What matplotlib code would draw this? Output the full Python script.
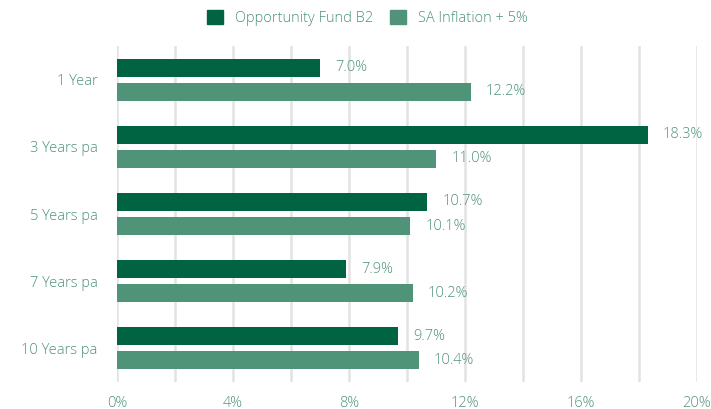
import matplotlib
matplotlib.use("Agg")
import matplotlib.pyplot as plt
import numpy as np
from matplotlib.patches import Patch

categories = ["1 Year", "3 Years pa", "5 Years pa", "7 Years pa", "10 Years pa"]
fund = [7.0, 18.3, 10.7, 7.9, 9.7]
inflation = [12.2, 11.0, 10.1, 10.2, 10.4]
series_names = ["Opportunity Fund B2", "SA Inflation + 5%"]
xticks = [0, 4, 8, 12, 16, 20]

DARK, LIGHT, TXT, GRID = "#006341", "#4f9478", "#4f9478", "#e3e3e3"
plt.rcParams.update({"font.family": ["Open Sans", "DejaVu Sans"], "font.size": 10.5,
                     "font.weight": "light"})

fig = plt.figure(figsize=(7.11, 4.09), dpi=100)
ax = fig.add_axes([0.165, 0.066, 0.815, 0.8215])

y = np.arange(len(categories))
h, off = 0.268, 0.179
ax.barh(y - off, fund, height=h, color=DARK, zorder=3)
ax.barh(y + off, inflation, height=h, color=LIGHT, zorder=3)

for yi, v in zip(y, fund):
    ax.annotate("%.1f%%" % v, (v, yi - off), xytext=(11, 0), textcoords="offset points",
                ha="left", va="center", color=TXT)
for yi, v in zip(y, inflation):
    ax.annotate("%.1f%%" % v, (v, yi + off), xytext=(11, 0), textcoords="offset points",
                ha="left", va="center", color=TXT)

ax.set_xlim(0, 20)
ax.set_ylim(len(categories) - 0.5, -0.5)
ax.set_xticks(xticks)
ax.set_xticks(np.arange(2, 20, 4), minor=True)
ax.set_xticklabels(["%d%%" % t for t in xticks])
ax.grid(True, axis="x", which="both", color=GRID, lw=1.8, zorder=0)
ax.set_yticks(y)
ax.set_yticklabels(categories)
ax.tick_params(axis="both", which="both", length=0, colors=TXT)
ax.tick_params(axis="x", pad=10)
ax.tick_params(axis="y", pad=14)
for sp in ax.spines.values():
    sp.set_visible(False)

handles = [Patch(color=DARK), Patch(color=LIGHT)]
fig.legend(handles, series_names, loc="upper center", bbox_to_anchor=(367.5 / 711, 1.0),
           ncol=2, frameon=False, handlelength=1.1, handleheight=1.1,
           handletextpad=0.85, columnspacing=1.1, labelcolor=TXT,
           borderaxespad=0.3)

fig.savefig("out.png", dpi=100)
